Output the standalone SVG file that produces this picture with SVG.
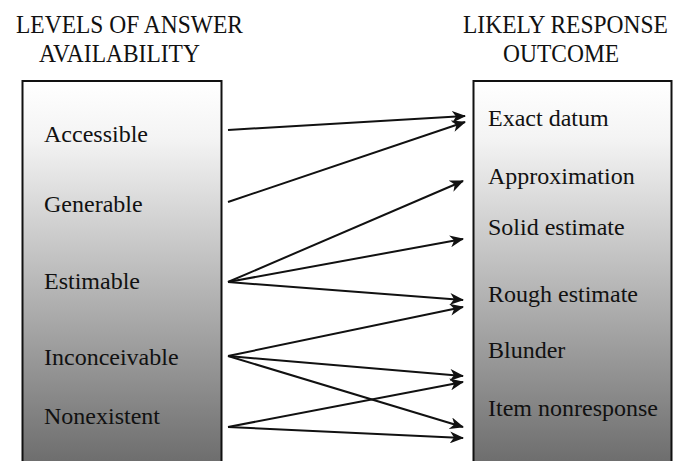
<svg xmlns="http://www.w3.org/2000/svg" width="686" height="461" viewBox="0 0 686 461">
  <defs>
    <linearGradient id="boxGrad" gradientUnits="userSpaceOnUse" x1="0" y1="81" x2="0" y2="461">
      <stop offset="0" stop-color="#ffffff"/>
      <stop offset="0.15" stop-color="#f4f4f4"/>
      <stop offset="1" stop-color="#6e6e6e"/>
    </linearGradient>
    <marker id="arrow" markerUnits="userSpaceOnUse" viewBox="0 0 14 12" refX="13" refY="6" markerWidth="14" markerHeight="12" orient="auto">
      <path d="M0,0 L14,6 L0,12 L4,6 z" fill="#111"/>
    </marker>
  </defs>
  <style>
    .hdr { font-family: "Liberation Serif", "Times New Roman", serif; font-size: 23.5px; fill: #111; }
    .lbl { font-family: "Liberation Serif", "Times New Roman", serif; font-size: 24px; fill: #111; }
    .box { fill: url(#boxGrad); stroke: #111; stroke-width: 2; }
    .conn line { stroke: #111; stroke-width: 2; fill: none; marker-end: url(#arrow); }
  </style>
  <rect width="686" height="461" fill="#ffffff"/>

  <g id="header-left">
    <text class="hdr" transform="translate(16,33) scale(1,1.1)">LEVELS OF ANSWER</text>
    <text class="hdr" transform="translate(39,62) scale(1,1.1)">AVAILABILITY</text>
  </g>
  <g id="header-right">
    <text class="hdr" transform="translate(463,33) scale(1,1.1)">LIKELY RESPONSE</text>
    <text class="hdr" transform="translate(503,62) scale(1,1.1)">OUTCOME</text>
  </g>

  <g id="left-box">
    <rect class="box" x="22.5" y="81" width="199" height="400"/>
  </g>
  <g id="right-box">
    <rect class="box" x="473.5" y="81" width="198" height="400"/>
  </g>

  <g id="node-accessible"><text class="lbl" x="44" y="142">Accessible</text></g>
  <g id="node-generable"><text class="lbl" x="44" y="212">Generable</text></g>
  <g id="node-estimable"><text class="lbl" x="44" y="289">Estimable</text></g>
  <g id="node-inconceivable"><text class="lbl" x="44" y="365">Inconceivable</text></g>
  <g id="node-nonexistent"><text class="lbl" x="44" y="424">Nonexistent</text></g>

  <g id="node-exact"><text class="lbl" x="488" y="126">Exact datum</text></g>
  <g id="node-approx"><text class="lbl" x="488" y="184">Approximation</text></g>
  <g id="node-solid"><text class="lbl" x="488" y="235">Solid estimate</text></g>
  <g id="node-rough"><text class="lbl" x="488" y="302">Rough estimate</text></g>
  <g id="node-blunder"><text class="lbl" x="488" y="358">Blunder</text></g>
  <g id="node-item"><text class="lbl" x="488" y="416">Item nonresponse</text></g>

  <g id="connectors" class="conn">
    <line x1="228" y1="130" x2="465" y2="116"/>
    <line x1="228" y1="202" x2="465" y2="122"/>
    <line x1="228" y1="282" x2="463" y2="181"/>
    <line x1="228" y1="282" x2="463" y2="239"/>
    <line x1="228" y1="282" x2="463" y2="300"/>
    <line x1="228" y1="356" x2="463" y2="307"/>
    <line x1="228" y1="356" x2="463" y2="376"/>
    <line x1="228" y1="356" x2="463" y2="427"/>
    <line x1="228" y1="427" x2="463" y2="382"/>
    <line x1="228" y1="427" x2="463" y2="438"/>
  </g>
</svg>
